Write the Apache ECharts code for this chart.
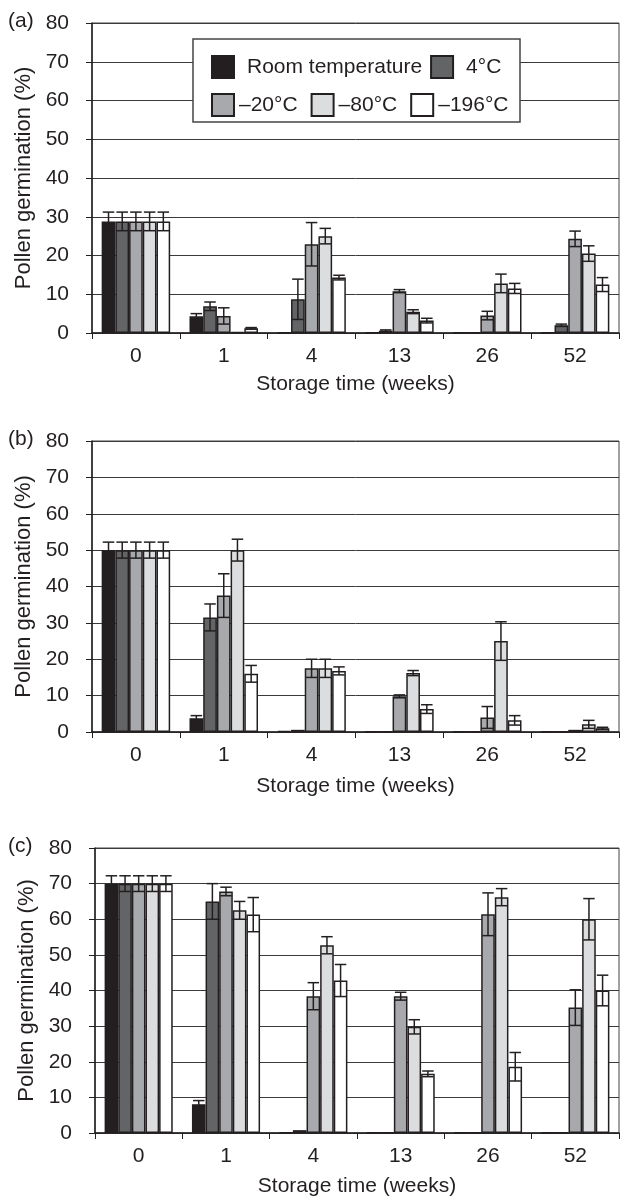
<!DOCTYPE html>
<html>
<head>
<meta charset="utf-8">
<script src="https://cdn.jsdelivr.net/npm/echarts@6/dist/echarts.min.js"></script>
<style>
html,body{margin:0;padding:0;background:#fff;}
#chart{width:620px;height:1198px;}
</style>
</head>
<body>
<div id="chart"></div>
<script>
// ---- data ----
const categories = ['0', '1', '4', '13', '26', '52'];
const seriesNames = ['Room temperature', '4°C', '–20°C', '–80°C', '–196°C'];
const panelLabels = ['(a)', '(b)', '(c)'];
const yAxisName = 'Pollen germination (%)';
const xAxisName = 'Storage time (weeks)';

// panel (a) means
const aRoom = [28.8, 4.3, 0.1, 0.1, 0.1, 0.1];
const a4 = [28.8, 6.9, 8.7, 0.6, 0.1, 2.0];
const aM20 = [28.8, 4.4, 22.9, 10.8, 4.5, 24.3];
const aM80 = [28.8, 0.3, 25.0, 5.5, 12.8, 20.5];
const aM196 = [28.8, 1.2, 14.3, 3.2, 11.5, 12.5];
// panel (a) errors
const aRoomErr = [2.4, 0.7, 0, 0, 0, 0];
const a4Err = [2.4, 1.1, 5.2, 0.2, 0, 0.3];
const aM20Err = [2.4, 2.1, 5.6, 0.4, 1.1, 2.0];
const aM80Err = [2.4, 0, 2.0, 0.5, 2.4, 2.0];
const aM196Err = [2.4, 0.2, 0.6, 0.6, 1.3, 1.8];

// panel (b) means
const bRoom = [50, 3.8, 0.3, 0.1, 0.1, 0.1];
const b4 = [50, 31.5, 0.6, 0.1, 0.1, 0.1];
const bM20 = [50, 37.5, 17.5, 9.8, 4.0, 0.6];
const bM80 = [50, 50.0, 17.5, 16.2, 25.0, 2.1];
const bM196 = [50, 16.0, 16.8, 6.3, 3.2, 1.0];
// panel (b) errors
const bRoomErr = [2.2, 0.7, 0, 0, 0, 0];
const b4Err = [2.2, 3.7, 0, 0, 0, 0];
const bM20Err = [2.2, 6.0, 2.5, 0.4, 3.0, 0];
const bM80Err = [2.2, 3.0, 2.5, 0.7, 5.3, 1.1];
const bM196Err = [2.2, 2.3, 1.1, 1.2, 1.3, 0.3];

// panel (c) means
const cRoom = [70, 8.1, 0.1, 0.1, 0.1, 0.1];
const c4 = [70, 65.0, 0.8, 0.1, 0.1, 0.1];
const cM20 = [70, 67.8, 38.4, 38.4, 61.4, 35.2];
const cM80 = [70, 62.5, 52.7, 29.8, 66.2, 60.0];
const cM196 = [70, 61.3, 42.8, 16.6, 18.6, 40.0];
// panel (c) errors
const cRoomErr = [2.2, 1.0, 0, 0, 0, 0];
const c4Err = [2.2, 5.0, 0, 0, 0, 0];
const cM20Err = [2.2, 1.2, 3.8, 1.1, 6.0, 5.0];
const cM80Err = [2.2, 2.5, 2.4, 2.0, 2.4, 5.8];
const cM196Err = [2.2, 4.8, 4.5, 0.8, 4.0, 4.3];

const panelValues = [
  [aRoom, a4, aM20, aM80, aM196],
  [bRoom, b4, bM20, bM80, bM196],
  [cRoom, c4, cM20, cM80, cM196]
];
const panelErrors = [
  [aRoomErr, a4Err, aM20Err, aM80Err, aM196Err],
  [bRoomErr, b4Err, bM20Err, bM80Err, bM196Err],
  [cRoomErr, c4Err, cM20Err, cM80Err, cM196Err]
];

// ---- styles ----
const fills = ['#231f20', '#636466', '#a7a9ac', '#dcdddf', '#ffffff'];
const ink = '#231f20';
const FONT = '"Liberation Sans", Arial, sans-serif';
const FS = 21;
const CAT_GAP = 0.22;

const grids = [
  { left: 92, right: 1, top: 23, height: 310 },
  { left: 92, right: 1, top: 441, height: 291 },
  { left: 95, right: 1, top: 848, height: 286 }
];
const xNameGaps = [41, 44, 43];

const chart = echarts.init(document.getElementById('chart'), null, { renderer: 'canvas' });

const xAxes = grids.map((g, i) => ({
  type: 'category', gridIndex: i, data: categories,
  boundaryGap: true,
  axisLine: { lineStyle: { color: ink, width: 1.5 } },
  axisTick: { show: true, inside: false, length: 6, alignWithLabel: false, lineStyle: { color: ink, width: 1 } },
  axisLabel: { color: ink, fontSize: FS, fontFamily: FONT, margin: 13 },
  name: xAxisName, nameLocation: 'middle', nameGap: xNameGaps[i],
  nameTextStyle: { color: ink, fontSize: FS, fontFamily: FONT },
  splitLine: { show: false }
}));

const yAxes = grids.map((g, i) => ({
  type: 'value', gridIndex: i, min: 0, max: 80, interval: 10,
  axisLine: { show: true, lineStyle: { color: ink, width: 1.5 } },
  axisTick: { show: true, inside: false, length: 6, lineStyle: { color: ink, width: 1 } },
  axisLabel: { color: ink, fontSize: FS, fontFamily: FONT, margin: 23 },
  splitLine: { show: true, lineStyle: { color: '#3a3a3a', width: 1 } },
  name: yAxisName, nameLocation: 'middle', nameGap: 46, nameRotate: 90,
  nameTextStyle: { color: ink, fontSize: 22, fontFamily: FONT }
}));

const series = [];
panelValues.forEach((vals, p) => {
  vals.forEach((arr, s) => {
    series.push({
      type: 'bar', name: seriesNames[s], xAxisIndex: p, yAxisIndex: p,
      data: arr, barGap: '0%', barCategoryGap: (CAT_GAP * 100) + '%',
      itemStyle: { color: fills[s], borderColor: ink, borderWidth: 1.5 },
      emphasis: { disabled: true }, z: 2
    });
  });
});
panelValues.forEach((vals, p) => {
  vals.forEach((arr, s) => {
    const errs = panelErrors[p][s];
    const data = arr.map((v, c) => [c, v, errs[c]]).filter(d => d[2] > 0);
    series.push({
      type: 'custom', name: seriesNames[s] + ' error', xAxisIndex: p, yAxisIndex: p,
      data: data, encode: { x: 0, y: 1 }, z: 5, silent: true,
      renderItem: function (params, api) {
        const c = api.value(0), v = api.value(1), e = api.value(2);
        const band = api.size([1, 0])[0];
        const bw = band * (1 - CAT_GAP) / 5;
        const x = api.coord([c, v])[0] + (s - 2) * bw;
        const yt = api.coord([c, v + e])[1];
        const yb = api.coord([c, v - e])[1];
        const hw = bw * 0.42;
        const st = { stroke: ink, lineWidth: 1.5 };
        return { type: 'group', children: [
          { type: 'line', shape: { x1: x, y1: yt, x2: x, y2: yb }, style: st },
          { type: 'line', shape: { x1: x - hw, y1: yt, x2: x + hw, y2: yt }, style: st },
          { type: 'line', shape: { x1: x - hw, y1: yb, x2: x + hw, y2: yb }, style: st }
        ] };
      }
    });
  });
});

const grid = grids.map(g => Object.assign({ show: true, borderColor: '#444', borderWidth: 1, containLabel: false }, g));

const legendCommon = {
  orient: 'horizontal', itemWidth: 22, itemHeight: 22, z: 20, icon: 'rect',
  textStyle: { color: ink, fontSize: FS, fontFamily: FONT },
  selectedMode: false
};

const option = {
  animation: false,
  backgroundColor: '#fff',
  grid: grid,
  xAxis: xAxes,
  yAxis: yAxes,
  legend: [
    Object.assign({}, legendCommon, { data: seriesNames.slice(0, 2), left: 206, top: 50, itemGap: 8, textStyle: Object.assign({}, legendCommon.textStyle, { padding: [0, 0, 0, 8] }) }),
    Object.assign({}, legendCommon, { data: seriesNames.slice(2), left: 206, top: 88, itemGap: 13 })
  ],
  graphic: [
    { type: 'rect', z: 10, shape: { x: 193, y: 39, width: 327, height: 83 }, style: { fill: '#fff', stroke: '#444', lineWidth: 1.5 } },
    { type: 'text', left: 8, top: 11, style: { text: panelLabels[0], fill: ink, font: FS + 'px ' + FONT } },
    { type: 'text', left: 8, top: 429, style: { text: panelLabels[1], fill: ink, font: FS + 'px ' + FONT } },
    { type: 'text', left: 8, top: 836, style: { text: panelLabels[2], fill: ink, font: FS + 'px ' + FONT } }
  ],
  series: series
};
chart.setOption(option);
</script>
</body>
</html>
